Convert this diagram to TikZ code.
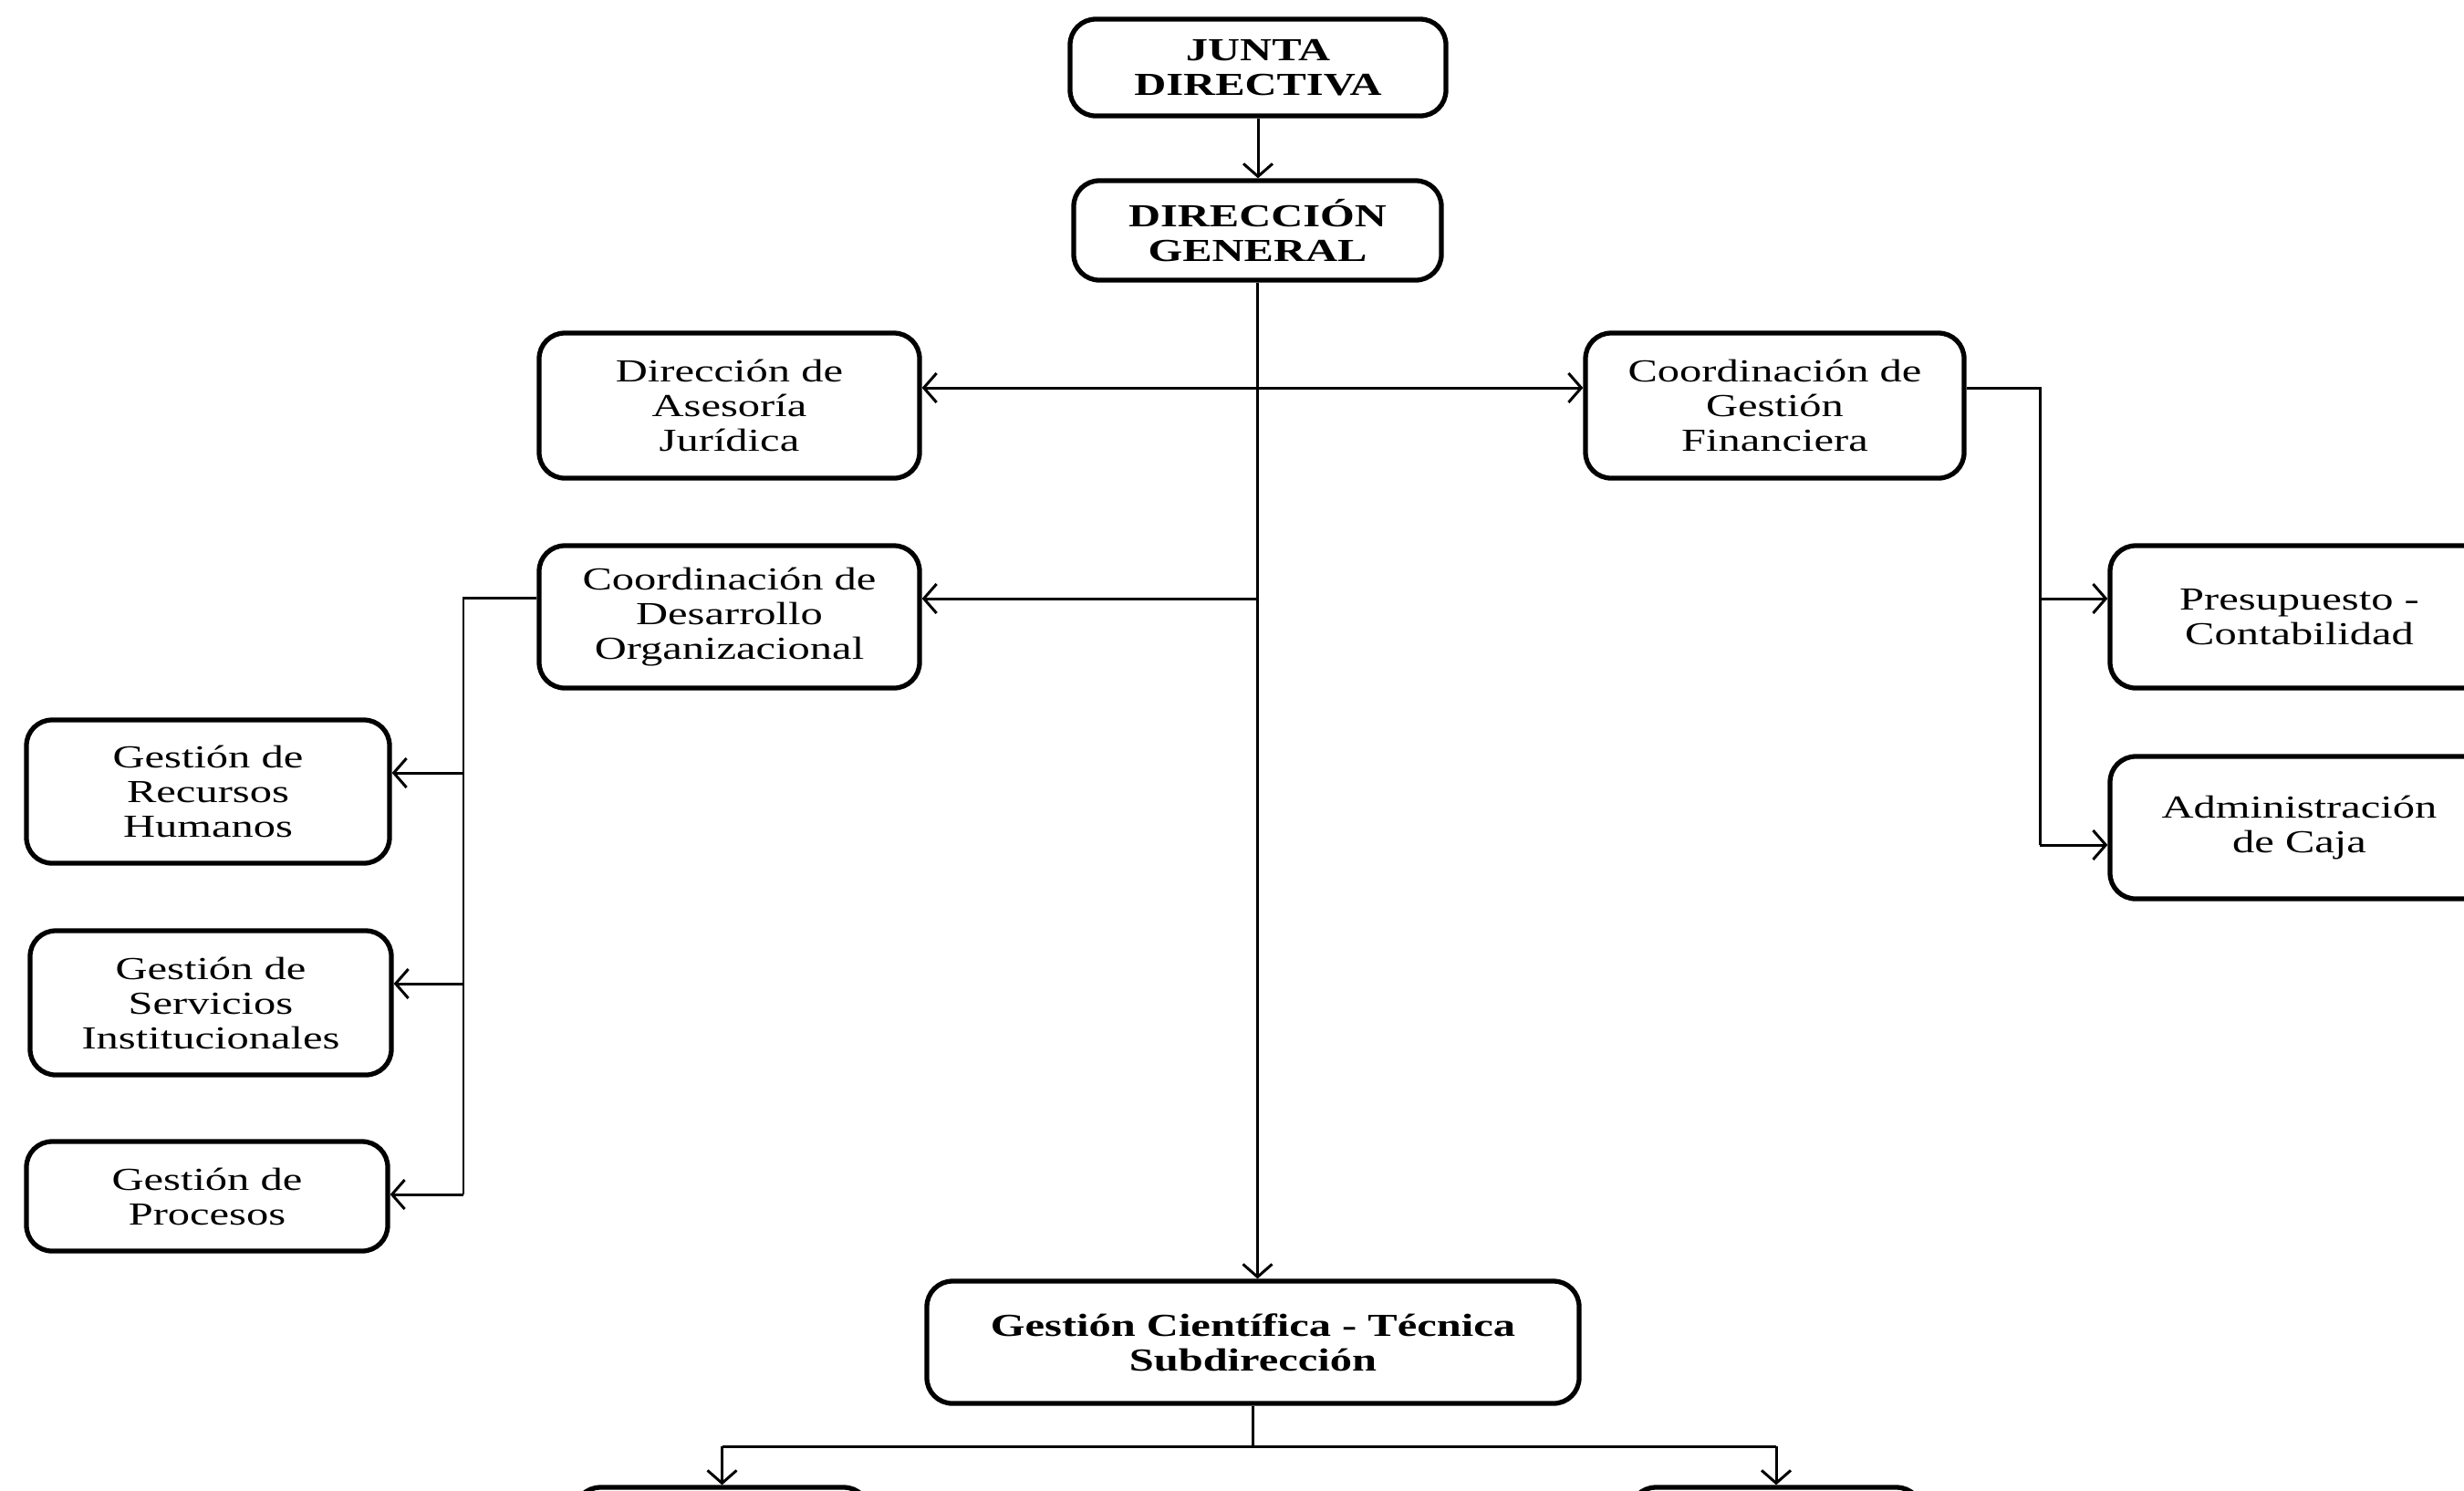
\documentclass[tikz,border=0pt]{standalone}
\usepackage{fontspec}
\setmainfont{Liberation Serif}[FakeStretch=1.38]
\usepackage{tikz}
\usetikzlibrary{arrows.meta,positioning,calc}

\begin{document}
\begin{tikzpicture}[
    >={Straight Barb[length=1.4mm,width=3.2mm]},
    unidad/.style={draw, line width=1.5pt, rounded corners=0.28cm, fill=white,
        align=center, inner sep=0pt, font=\fontsize{10}{10.8}\selectfont},
    unidadb/.style={unidad, font=\fontsize{10}{10.8}\selectfont\bfseries},
    enlace/.style={line width=0.85pt}
]
    \useasboundingbox (0,0) rectangle (27.01,-16.33);
    \clip (0,0) rectangle (27.01,-16.33);

    % Direccion
    \node[unidadb, minimum width=4.12cm, minimum height=1.06cm] (junta) at (13.79,-0.74) {JUNTA\\DIRECTIVA};
    \node[unidadb, minimum width=4.03cm, minimum height=1.09cm] (dg) at (13.785,-2.525) {DIRECCIÓN\\GENERAL};

    % Primer nivel
    \node[unidad, minimum width=4.17cm, minimum height=1.59cm] (aseso) at (7.995,-4.445) {Dirección de\\Asesoría\\Jurídica};
    \node[unidad, minimum width=4.15cm, minimum height=1.59cm] (cgf) at (19.455,-4.445) {Coordinación de\\Gestión\\Financiera};
    \node[unidad, minimum width=4.17cm, minimum height=1.56cm] (cdo) at (7.995,-6.76) {Coordinación de\\Desarrollo\\Organizacional};

    % Desarrollo organizacional
    \node[unidad, minimum width=3.98cm, minimum height=1.57cm] (rrhh) at (2.28,-8.675) {Gestión de\\Recursos\\Humanos};
    \node[unidad, minimum width=3.96cm, minimum height=1.58cm] (serv) at (2.31,-10.99) {Gestión de\\Servicios\\Institucionales};
    \node[unidad, minimum width=3.96cm, minimum height=1.20cm] (proc) at (2.27,-13.11) {Gestión de\\Procesos};

    % Gestion financiera
    \node[unidad, minimum width=4.15cm, minimum height=1.56cm] (presu) at (25.205,-6.76) {Presupuesto -\\Contabilidad};
    \node[unidad, minimum width=4.15cm, minimum height=1.56cm] (caja) at (25.205,-9.07) {Administración\\de Caja};

    % Subdireccion
    \node[unidadb, minimum width=7.15cm, minimum height=1.34cm] (gc) at (13.735,-14.71) {Gestión Científica - Técnica\\Subdirección};
    \node[unidad, minimum width=3.23cm, minimum height=1.3cm] (sub1) at (7.915,-16.95) {};
    \node[unidad, minimum width=3.20cm, minimum height=1.3cm] (sub2) at (19.47,-16.95) {};

    % Puntos de union
    \coordinate (hj) at (13.78,-4.25);
    \coordinate (hd) at (13.78,-6.56);
    \coordinate (lb0) at (5.08,-6.55);
    \coordinate (lb1) at (5.08,-8.47);
    \coordinate (lb2) at (5.08,-10.78);
    \coordinate (lb3) at (5.08,-13.09);
    \coordinate (rb0) at (22.36,-4.25);
    \coordinate (rb1) at (22.36,-6.56);
    \coordinate (rb2) at (22.36,-9.26);
    \coordinate (gb) at (13.76,-15.85);

    % Conectores
    \draw[enlace, ->] (junta.south) -- (junta.south |- dg.north);
    \draw[enlace, ->] (dg.south) -- (dg.south |- gc.north);
    \draw[enlace, <->] (hj -| aseso.east) -- (hj -| cgf.west);
    \draw[enlace, ->] (hd) -- (hd -| cdo.east);

    \draw[enlace] (lb0 -| cdo.west) -- (lb0) -- (lb3);
    \draw[enlace, ->] (lb1) -- (lb1 -| rrhh.east);
    \draw[enlace, ->] (lb2) -- (lb2 -| serv.east);
    \draw[enlace, ->] (lb3) -- (lb3 -| proc.east);

    \draw[enlace] (rb0 -| cgf.east) -- (rb0) -- (rb2);
    \draw[enlace, ->] (rb1) -- (rb1 -| presu.west);
    \draw[enlace, ->] (rb2) -- (rb2 -| caja.west);

    \draw[enlace] (gc.south) -- (gc.south |- gb);
    \draw[enlace] (gb -| sub1.north) -- (gb -| sub2.north);
    \draw[enlace, ->] (gb -| sub1.north) -- (sub1.north);
    \draw[enlace, ->] (gb -| sub2.north) -- (sub2.north);
\end{tikzpicture}
\end{document}
